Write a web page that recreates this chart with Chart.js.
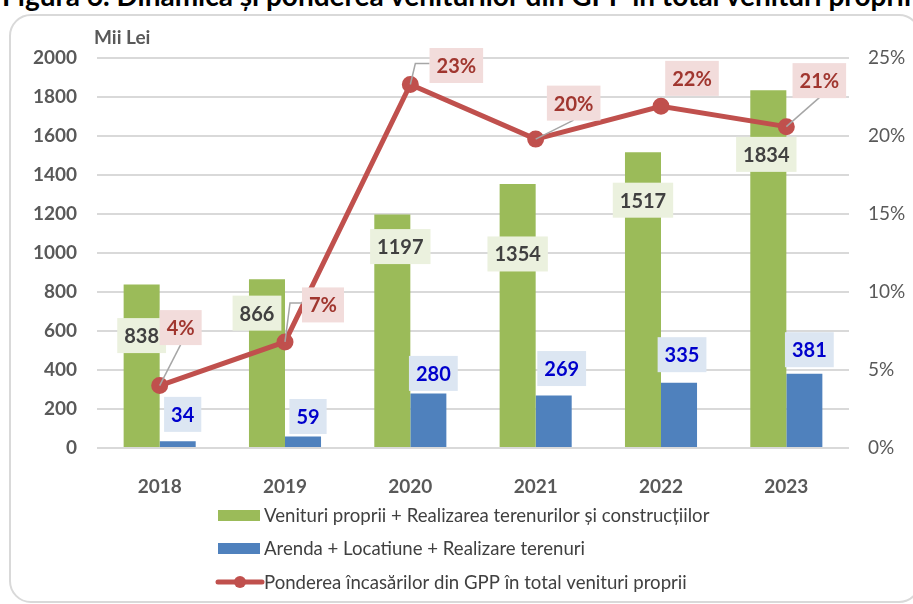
<!DOCTYPE html>
<html>
<head>
<meta charset="utf-8">
<script src="https://cdn.jsdelivr.net/npm/chart.js"></script>
<style>
  html, body { margin: 0; padding: 0; background: #fff; }
  body { width: 913px; height: 604px; position: relative; overflow: hidden; font-family: Lato, sans-serif; }
  #title { position: absolute; left: 2px; top: -22px; font: bold 28px Lato, sans-serif; white-space: nowrap; color: #000; }
  #frame { position: absolute; left: 9px; top: 14px; width: 912px; height: 589px; border: 2px solid #d9d9d9; border-radius: 22px; box-sizing: border-box; }
  #gppChart { position: absolute; left: 0; top: 0; }
</style>
</head>
<body>
<div id="title">Figura 6. Dinamica și ponderea veniturilor din GPP în total venituri proprii</div>
<div id="frame"></div>
<canvas id="gppChart" width="913" height="604"></canvas>
<script>
// date
const years = ["2018", "2019", "2020", "2021", "2022", "2023"];
const venituriProprii = [838, 866, 1197, 1354, 1517, 1834];
const arendaLocatiune = [34, 59, 280, 269, 335, 381];
const pondereGPP = [4.0, 6.8, 23.3, 19.8, 21.9, 20.6];
const seriesNames = [
  "Venituri proprii + Realizarea terenurilor și construcțiilor",
  "Arenda + Locatiune + Realizare terenuri",
  "Ponderea încasărilor din GPP în total venituri proprii"
];
const leftTicks = { min: 0, max: 2000, step: 200 };
const rightTicks = { min: 0, max: 25, step: 5 };

// label placement (offset of label centre from the bar top / point), like the excel file
const greenOffsets = [[0, 51], [-10, 34], [8, 32], [0, 70], [0, 48], [-2, 64]];
const blueOffsets = [[5, -27], [5, -20], [5, -20], [8, -27], [3, -28], [5, -24]];
const redOffsets = [[21, -58], [38, -37], [46, -19], [38, -36], [31, -28], [33, -46]];
const redLeader = ["bottom", "left", "left", "bottom", null, "bottom"];

const green = "#9bbb59";
const blue = "#4f81bd";
const red = "#c0504d";
const gray = "#595959";

Chart.defaults.font.family = "Lato, sans-serif";

function drawBox(ctx, text, cx, cy, bg, fg) {
  ctx.font = "bold 20px Lato, sans-serif";
  const w = ctx.measureText(text).width + 14;
  const h = 35;
  ctx.fillStyle = bg;
  ctx.fillRect(cx - w / 2, cy - h / 2, w, h);
  ctx.fillStyle = fg;
  ctx.textAlign = "center";
  ctx.textBaseline = "middle";
  ctx.fillText(text, cx, cy + 1);
  return w;
}

const labelsPlugin = {
  id: "boxLabels",
  afterDatasetsDraw(chart) {
    const ctx = chart.ctx;
    ctx.save();
    const g = chart.getDatasetMeta(0).data;
    const b = chart.getDatasetMeta(1).data;
    const r = chart.getDatasetMeta(2).data;
    g.forEach((el, i) => {
      drawBox(ctx, String(venituriProprii[i]), el.x + greenOffsets[i][0], el.y + greenOffsets[i][1], "#ebf1de", "#404040");
    });
    b.forEach((el, i) => {
      drawBox(ctx, String(arendaLocatiune[i]), el.x + blueOffsets[i][0], el.y + blueOffsets[i][1], "#dce6f2", "#0000cc");
    });
    r.forEach((el, i) => {
      const txt = Math.round(pondereGPP[i]) + "%";
      const cx = el.x + redOffsets[i][0];
      const cy = el.y + redOffsets[i][1];
      ctx.font = "bold 20px Lato, sans-serif";
      const w = ctx.measureText(txt).width + 14;
      ctx.strokeStyle = "#a6a6a6";
      ctx.lineWidth = 1.5;
      if (redLeader[i] === "bottom") {
        ctx.beginPath();
        ctx.moveTo(el.x, el.y);
        ctx.lineTo(cx, cy + 17);
        ctx.stroke();
      } else if (redLeader[i] === "left") {
        ctx.beginPath();
        ctx.moveTo(el.x, el.y);
        ctx.lineTo(el.x + 5, cy - 2);
        ctx.lineTo(cx - w / 2, cy - 2);
        ctx.stroke();
      }
      drawBox(ctx, txt, cx, cy, "#f2dcdb", "#a0362f");
    });
    ctx.restore();
  },
  afterDraw(chart) {
    const ctx = chart.ctx;
    ctx.save();
    // unit label
    ctx.font = "bold 19px Lato, sans-serif";
    ctx.fillStyle = gray;
    ctx.textAlign = "left";
    ctx.textBaseline = "middle";
    ctx.fillText("Mii Lei", 94, 38);

    // legend
    const lx = 218, rows = [515, 548, 582];
    ctx.fillStyle = green;
    ctx.fillRect(lx, rows[0] - 5, 42, 11);
    ctx.fillStyle = blue;
    ctx.fillRect(lx, rows[1] - 5, 42, 11);
    ctx.strokeStyle = red;
    ctx.lineWidth = 5;
    ctx.lineCap = "round";
    ctx.beginPath();
    ctx.moveTo(lx, rows[2]);
    ctx.lineTo(lx + 44, rows[2]);
    ctx.stroke();
    ctx.fillStyle = red;
    ctx.beginPath();
    ctx.arc(lx + 22, rows[2], 6, 0, Math.PI * 2);
    ctx.fill();
    ctx.font = "18.6px Lato, sans-serif";
    ctx.fillStyle = "#404040";
    seriesNames.forEach((n, i) => ctx.fillText(n, lx + 46, rows[i] + 1));
    ctx.restore();
  }
};

new Chart("gppChart", {
  type: "bar",
  data: {
    labels: years,
    datasets: [{
      label: seriesNames[0],
      data: venituriProprii,
      backgroundColor: green,
      yAxisID: "y",
      order: 2,
      categoryPercentage: 0.575,
      barPercentage: 1.0
    }, {
      label: seriesNames[1],
      data: arendaLocatiune,
      backgroundColor: blue,
      yAxisID: "y",
      order: 2,
      categoryPercentage: 0.575,
      barPercentage: 1.0
    }, {
      type: "line",
      label: seriesNames[2],
      data: pondereGPP,
      borderColor: red,
      backgroundColor: red,
      borderWidth: 5,
      pointRadius: 6,
      pointHoverRadius: 6,
      yAxisID: "y1",
      order: 1,
      tension: 0
    }]
  },
  options: {
    responsive: false,
    animation: false,
    devicePixelRatio: 1,
    layout: { padding: { top: 58, left: 0, right: 0, bottom: 0 } },
    plugins: {
      legend: { display: false },
      tooltip: { enabled: false }
    },
    scales: {
      x: {
        grid: { display: false },
        border: { display: false },
        ticks: { color: gray, font: { size: 19, weight: "bold" }, padding: 19 },
        afterFit: s => { s.height = 156; }
      },
      y: {
        position: "left",
        min: leftTicks.min,
        max: leftTicks.max,
        ticks: { stepSize: leftTicks.step, color: gray, font: { size: 19, weight: "bold" }, padding: 20, callback: v => String(v) },
        grid: { color: "#d9d9d9", lineWidth: 2, drawTicks: false },
        border: { display: false },
        afterFit: s => { s.width = 97; }
      },
      y1: {
        position: "right",
        min: rightTicks.min,
        max: rightTicks.max,
        ticks: { stepSize: rightTicks.step, color: gray, font: { size: 19 }, padding: 19, callback: v => v + "%" },
        grid: { display: false, drawTicks: false },
        border: { display: false },
        afterFit: s => { s.width = 64; }
      }
    }
  },
  plugins: [labelsPlugin]
});
</script>
</body>
</html>
